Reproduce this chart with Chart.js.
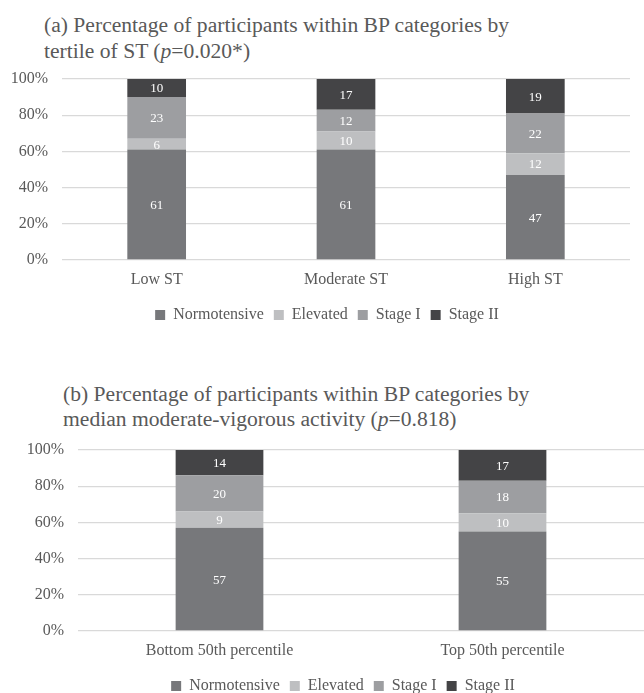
<!DOCTYPE html>
<html>
<head>
<meta charset="utf-8">
<script src="https://cdn.jsdelivr.net/npm/chart.js@4"></script>
<style>
  html, body { margin: 0; padding: 0; background: #fff; overflow: hidden; }
  body { width: 644px; height: 693px; position: relative; font-family: "Liberation Serif", "Times New Roman", serif; }
  .title { position: absolute; font-size: 21.6px; line-height: 26px; color: #595959; white-space: nowrap; }
  .box { position: absolute; left: 0; width: 644px; height: 285px; }
</style>
</head>
<body>
<div class="title" style="left:44px; top:12px;">(a) Percentage of participants within BP categories by<br>tertile of ST (<i>p</i>=0.020*)</div>
<div class="box" style="top:60px;"><canvas id="chartA"></canvas></div>
<div class="title" style="left:63px; top:382px; line-height:25px;">(b) Percentage of participants within BP categories by<br>median moderate-vigorous activity (<i>p</i>=0.818)</div>
<div class="box" style="top:431px;"><canvas id="chartB"></canvas></div>
<script>
const seriesNames = ["Normotensive", "Elevated", "Stage I", "Stage II"];
const seriesColors = ["#77787b", "#bebfc1", "#9d9ea1", "#444446"];

// (a) tertile of sedentary time
const stCategories = ["Low ST", "Moderate ST", "High ST"];
const stNormotensive = [61, 61, 47];
const stElevated = [6, 10, 12];
const stStage1 = [23, 12, 22];
const stStage2 = [10, 17, 19];

// (b) median MVPA
const mvCategories = ["Bottom 50th percentile", "Top 50th percentile"];
const mvNormotensive = [57, 55];
const mvElevated = [9, 10];
const mvStage1 = [20, 18];
const mvStage2 = [14, 17];

const yTicks = [0, 20, 40, 60, 80, 100];

const FONT = "'Liberation Serif', 'Times New Roman', serif";
const TEXT = "#595959";

// white value labels in the middle of each segment
const segmentLabels = {
  id: "segmentLabels",
  afterDatasetsDraw(chart) {
    const ctx = chart.ctx;
    ctx.save();
    ctx.font = "13px " + FONT;
    ctx.fillStyle = "#ffffff";
    ctx.textAlign = "center";
    ctx.textBaseline = "middle";
    chart.data.datasets.forEach((ds, i) => {
      chart.getDatasetMeta(i).data.forEach((bar, j) => {
        ctx.fillText(String(ds.data[j]), bar.x, (bar.y + bar.base) / 2 + 1);
      });
    });
    ctx.restore();
  }
};

// nudge the legend sideways, the original one is not centred on the canvas
const legendShift = {
  id: "legendShift",
  afterLayout(chart, args, opts) {
    if (chart.legend) {
      chart.legend.left += opts.dx || 0;
      chart.legend.right += opts.dx || 0;
    }
  }
};

function makeChart(id, labels, values, axisWidth, padRight, legendDx) {
  const ctx = document.getElementById(id).getContext("2d");
  return new Chart(ctx, {
    type: "bar",
    data: {
      labels: labels,
      datasets: values.map((v, i) => ({
        label: seriesNames[i],
        data: v,
        backgroundColor: seriesColors[i],
        borderWidth: 0,
        barPercentage: 0.31,
        categoryPercentage: 1
      }))
    },
    options: {
      responsive: true,
      maintainAspectRatio: false,
      animation: false,
      layout: { padding: { top: 19, bottom: 12, left: 0, right: padRight } },
      plugins: {
        legend: {
          position: "bottom",
          labels: {
            color: TEXT,
            boxWidth: 10,
            boxHeight: 10,
            padding: 10,
            font: { family: FONT, size: 16 }
          }
        },
        legendShift: { dx: legendDx },
        tooltip: { enabled: false }
      },
      scales: {
        x: {
          stacked: true,
          grid: { display: false },
          border: { display: false },
          ticks: { color: TEXT, padding: 2, font: { family: FONT, size: 16 } },
          afterFit: s => { s.height = 37; }
        },
        y: {
          stacked: true,
          min: 0,
          max: 100,
          afterBuildTicks: s => { s.ticks = yTicks.map(v => ({ value: v })); },
          ticks: {
            color: TEXT,
            padding: 4,
            font: { family: FONT, size: 16 },
            callback: v => v + "%"
          },
          grid: { color: "#d9d9d9", lineWidth: 1.3, drawTicks: true, tickLength: 10, tickColor: "rgba(0,0,0,0)" },
          border: { display: false },
          afterFit: s => { s.width = axisWidth; }
        }
      }
    },
    plugins: [segmentLabels, legendShift]
  });
}

makeChart("chartA", stCategories, [stNormotensive, stElevated, stStage1, stStage2], 62, 14, 12);
makeChart("chartB", mvCategories, [mvNormotensive, mvElevated, mvStage1, mvStage2], 78, 0, 21);
</script>
</body>
</html>
